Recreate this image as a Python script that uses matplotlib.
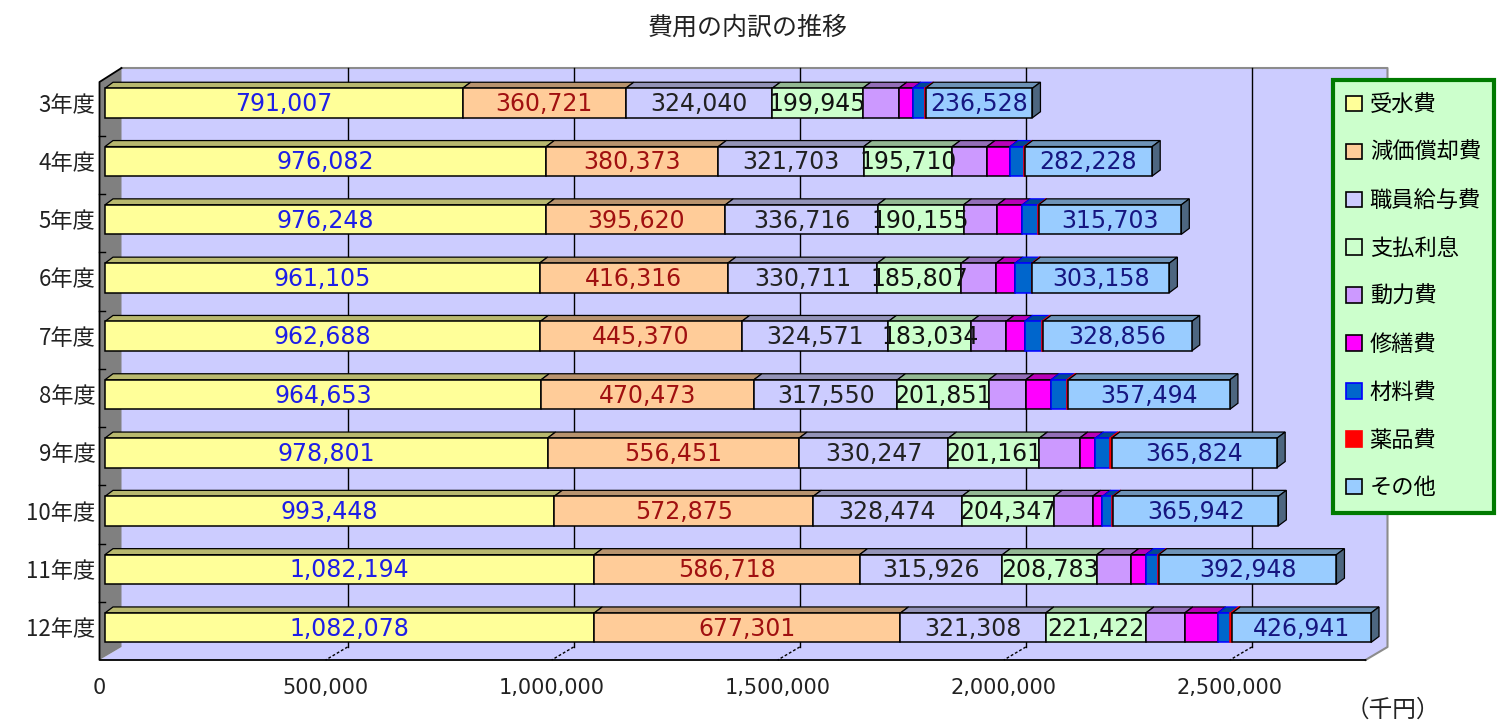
import numpy as np
import matplotlib.pyplot as plt
from matplotlib.patches import Polygon, Rectangle, Patch

plt.rcParams['font.family'] = ['Noto Sans CJK JP', 'DejaVu Sans']

# 費用の内訳（千円）
years = ['3年度', '4年度', '5年度', '6年度', '7年度', '8年度', '9年度', '10年度', '11年度', '12年度']
names = ['受水費', '減価償却費', '職員給与費', '支払利息', '動力費', '修繕費', '材料費', '薬品費', 'その他']
juusui = [791007, 976082, 976248, 961105, 962688, 964653, 978801, 993448, 1082194, 1082078]
genka = [360721, 380373, 395620, 416316, 445370, 470473, 556451, 572875, 586718, 677301]
kyuyo = [324040, 321703, 336716, 330711, 324571, 317550, 330247, 328474, 315926, 321308]
rishi = [199945, 195710, 190155, 185807, 183034, 201851, 201161, 204347, 208783, 221422]
douryoku = [80000, 77000, 75000, 77000, 77000, 82000, 89000, 85000, 75000, 86000]
shuzen = [31000, 51000, 55000, 42000, 41000, 56000, 35000, 22000, 33000, 73000]
zairyo = [27000, 31000, 35000, 37000, 38000, 35000, 32000, 22000, 28000, 28000]
yakuhin = [1000, 1000, 1000, 1000, 3000, 3000, 4000, 1000, 1000, 4000]
sonota = [236528, 282228, 315703, 303158, 328856, 357494, 365824, 365942, 392948, 426941]
xticks = [0, 500000, 1000000, 1500000, 2000000, 2500000]

colors = ['#FFFF99', '#FFCC99', '#CCCCFF', '#CCFFCC', '#CC99FF', '#FF00FF', '#0066CC', '#FF0000', '#99CCFF']
edges = ['black'] * 6 + ['#0000FF', '#FF0000', 'black']
label_colors = {0: '#1E1EE6', 1: '#A01010', 2: '#222222', 3: '#111111', 8: '#161680'}

XMAX = 2800000
data = np.array([juusui, genka, kyuyo, rishi, douryoku, shuzen, zairyo, yakuhin, sonota], dtype=float)
lefts = np.vstack([np.zeros(len(years)), np.cumsum(data, axis=0)[:-1]])

fig = plt.figure(figsize=(15.04, 7.22), dpi=100)
ax = fig.add_axes([0, 0, 1, 1])
PX = XMAX / 1266.0   # value per pixel
ROW = 58.3           # pixels per category
ax.set_xlim(-105 * PX, (1504 - 105) * PX)
ax.set_ylim((722 - 103) / ROW, -103 / ROW)
ax.axis('off')


def py(p):
    return (p - 103) / ROW


def shade(c, f):
    r, g, b = [int(c[i:i + 2], 16) / 255 for i in (1, 3, 5)]
    return (r * f, g * f, b * f)


# 3D frame: back wall, floor, left wall
front_dx, back_dx = -5.5 * PX, 16.5 * PX
front_top, front_bot = py(82), py(660)
back_top, back_bot = py(68), py(647)
wall = '#CCCCFF'
ax.add_patch(Rectangle((back_dx, back_top), XMAX, back_bot - back_top, facecolor=wall, edgecolor='none', zorder=0))
ax.add_patch(Polygon([(front_dx, front_bot), (XMAX + front_dx, front_bot), (XMAX + back_dx, back_bot),
                      (back_dx, back_bot)], closed=True, facecolor=wall, edgecolor='none', zorder=0))
ax.add_patch(Polygon([(front_dx, front_top), (back_dx, back_top), (back_dx, back_bot), (front_dx, front_bot)],
                     closed=True, facecolor='#808080', edgecolor='none', zorder=0))
ax.plot([back_dx, XMAX + back_dx, XMAX + back_dx, XMAX + front_dx],
        [back_top, back_top, back_bot, front_bot], color='#8C8C8C', lw=1.5, zorder=1)
ax.plot([back_dx, front_dx, front_dx, XMAX + front_dx], [back_top, front_top, front_bot, front_bot],
        color='black', lw=1.3, zorder=1)

for k in xticks[1:]:
    ax.plot([k + back_dx, k + back_dx], [back_top, back_bot], color='black', lw=1, zorder=1)
    ax.plot([k + back_dx, k + front_dx], [back_bot, front_bot], color='black', lw=1, ls=(0, (2, 1.5)), zorder=1)
for k in xticks:
    ax.text(k + front_dx, py(688), f'{k:,}', ha='center', va='center', fontsize=15,
            family='DejaVu Sans', color='#222222')

# category ticks on the front edge
for i in range(1, len(years)):
    yb = i - 0.5 + 3.5 / ROW
    ax.plot([front_dx, front_dx + 6 * PX], [yb, yb], color='black', lw=1, zorder=1)

# stacked 3D bars
h = 29.5 / ROW
dxb, dyb = 8 * PX, -6 / ROW
for i, yr in enumerate(years):
    top = i - h / 2
    segs = []
    for j in range(len(names)):
        x0 = min(lefts[j, i], XMAX)
        x1 = min(lefts[j, i] + data[j, i], XMAX)
        if x1 > x0:
            segs.append((j, x0, x1))
    for j, x0, x1 in segs:
        ax.add_patch(Polygon([(x0, top), (x0 + dxb, top + dyb), (x1 + dxb, top + dyb), (x1, top)], closed=True,
                             facecolor=shade(colors[j], 0.72), edgecolor=edges[j], lw=0.9, zorder=3))
    for j, x0, x1 in segs:
        ax.add_patch(Rectangle((x0, top), x1 - x0, h, facecolor=colors[j], edgecolor=edges[j], lw=1.1, zorder=4))
        if j in label_colors:
            ax.text((x0 + x1) / 2, i + 1 / ROW, f'{int(data[j, i]):,}', ha='center', va='center', fontsize=17,
                    family='DejaVu Sans', color=label_colors[j], zorder=5)
    j, x0, x1 = segs[-1]
    ax.add_patch(Polygon([(x1, top), (x1 + dxb, top + dyb), (x1 + dxb, top + h + dyb), (x1, top + h)], closed=True,
                         facecolor=shade(colors[j], 0.5), edgecolor='black', lw=0.9, zorder=3))
    ax.text(front_dx - 4 * PX, i + 2 / ROW, yr, ha='right', va='center', fontsize=16, color='#222222')

fig.text(748 / 1504, 1 - 28 / 722, '費用の内訳の推移', ha='center', va='center', fontsize=18, color='#222222')
fig.text(1393 / 1504, 1 - 710 / 722, '（千円）', ha='center', va='center', fontsize=17, color='#222222')

handles = [Patch(facecolor=c, edgecolor=e, lw=1.2) for c, e in zip(colors, edges)]
leg = fig.legend(handles, names, loc='upper left', bbox_to_anchor=(1333 / 1504, 1 - 80 / 722), fontsize=16,
                 fancybox=False, framealpha=1, handlelength=0.7, handleheight=0.7, handletextpad=0.35,
                 labelspacing=1.12, borderpad=0.6, borderaxespad=0)
leg.get_frame().set_facecolor('#CCFFCC')
leg.get_frame().set_edgecolor('#007A00')
leg.get_frame().set_linewidth(3)

plt.savefig('out.png', dpi=100)
